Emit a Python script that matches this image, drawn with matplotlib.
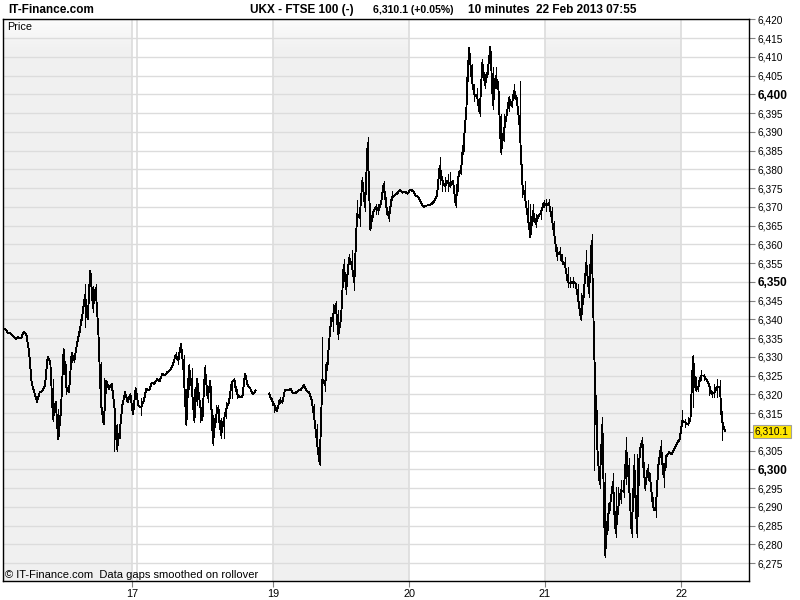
import numpy as np
import matplotlib
matplotlib.use('Agg')
import matplotlib.pyplot as plt
from matplotlib.transforms import blended_transform_factory

plt.rcParams['font.family'] = ['Liberation Sans', 'DejaVu Sans']

# 10 minute closes, FTSE 100, one list per trading session (None = data gap)
fri15 = [6337.5, 6336.5, 6336.2, 6335.5, 6334.8, 6335.2, 6334.9, 6336.6, 6335.9, 6331.5,
         6323, 6320.5, 6318, 6320.5, 6320.8, 6322.5, 6330, 6328.5, 6313.5, 6318,
         6308, 6316, 6332, 6322, 6320.5, 6331, 6329, 6333.5, 6337, 6341,
         6346.5, 6340, 6353, 6343, 6348.5, 6336.7, 6317.5, 6312, 6323.5, 6321.5,
         6322.8, 6317, 6305.5, 6310, 6317, 6320.5, 6318, 6320, 6314.6, 6321.6]
mon18 = [6317, 6316.5, 6318.2, 6321.5, 6321, 6323, 6322.8, 6324, 6323.5, 6325.5,
         6325, 6326, 6326.5, 6328, 6330.5, 6329, 6333.5, 6326, 6312, 6327.5,
         6322, 6313, 6324, 6318, 6313, 6327, 6319, 6323.5, 6307, 6314,
         6316.5, 6309, 6313, 6316, 6318, 6323, 6324, 6320, 6319.2, 6319.3,
         6325.5, 6322.5, 6321.5, 6320, 6321, None, None, None, None, 6320.2,
         6318.5]
tue19 = [6317, 6315.5, 6318.5, 6317.8, 6321.3, 6321, 6321.5, 6320.3, 6320.4, 6321,
         6321.2, 6322.5, 6321, 6320.5, 6318.5, 6313.5, 6307, 6301.5, 6324, 6322.5,
         6329, 6338, 6341, 6344, 6336, 6340, 6354.5, 6348, 6356.5, 6354.5,
         6350, 6368, 6367, 6377, 6370, 6387, 6364, 6368.5, 6370, 6369,
         6371, 6376, 6370, 6367, 6372.5, 6373, 6373.5, 6374.5, 6373.8, 6374,
         6373.5]
wed20 = [6374.6, 6374.2, 6373, 6372.6, 6371, 6370, 6370.3, 6370.5, 6370.8, 6371.5,
         6373.2, 6381, 6377, 6375.5, 6377, 6375.5, 6377, 6370.5, 6378, 6380,
         6387, 6396, 6412.5, 6404, 6400, 6399.5, 6395, 6408.5, 6402.5, 6406,
         6412.7, 6397, 6405, 6402, 6384.5, 6390, 6394, 6399, 6397, 6401,
         6398, 6391.5, 6376, 6372.5, 6367.5, 6362, 6369, 6365.5, 6367.5, 6368.5,
         6371]
thu21 = [6370.5, 6371, 6367, 6362.5, 6357, 6358, 6355.5, 6354.5, 6350, 6349.5,
         6350, 6349.5, 6345, 6340, 6347, 6355, 6347, 6361, 6330, 6307,
         6296, 6312, 6277, 6287, 6291, 6296.5, 6283, 6290, 6294.5, 6294,
         6305, 6296, 6283, 6301, 6283, 6305, 6307.5, 6295, 6300, 6297,
         6290, 6289, 6301, 6306, 6298, 6303.5, 6304.5, 6304, 6305.5, 6307,
         6308]
fri22 = [6313, 6312.5, 6312, 6313, 6330, 6321, 6322, 6325, 6325, 6324,
         6322.5, 6320, 6320.5, 6322, 6322, 6312.5, 6310.1]

# intra-bar swings (bar number, low, high) where the trace is busy
bar_ranges = [
    (18, 6313, 6324), (19, 6311, 6318), (20, 6308, 6316), (21, 6314.6, 6320.8),
    (23, 6320, 6328), (25, 6328.7, 6331.4), (26, 6328.7, 6331), (28, 6336.7, 6340),
    (30, 6338, 6349.5), (31, 6340, 6349.5), (33, 6342, 6349), (34, 6344, 6349.5),
    (36, 6316.8, 6328.7), (37, 6312, 6324.3), (41, 6305, 6317), (42, 6305, 6312),
    (43, 6308.4, 6311.9), (44, 6315.4, 6318.1), (51, 6314.5, 6318.9),
    (64, 6329.5, 6331.3), (65, 6328.2, 6331.3), (67, 6325.5, 6330.4), (68, 6311.8, 6321.5),
    (69, 6321.5, 6328.2), (70, 6321.5, 6327), (71, 6312.7, 6321.5), (72, 6317.1, 6324.2),
    (73, 6312.7, 6318), (75, 6323.3, 6327.7), (76, 6318, 6321.5), (77, 6316.2, 6323.8),
    (78, 6306.5, 6314.5), (79, 6312.7, 6317.1), (80, 6312.7, 6317.1), (81, 6308.3, 6313.6),
    (82, 6308.3, 6313.6), (83, 6313.6, 6318), (85, 6318.9, 6323.3), (86, 6322, 6324.2),
    (87, 6319, 6321.5), (100, 6317.1, 6318.9), (101, 6315.4, 6316.7),
    (103, 6317.6, 6319.3), (104, 6317.6, 6319.3),
    (116, 6313.5, 6317.5), (117, 6306.9, 6312.2), (118, 6301.1, 6306), (119, 6321, 6335.3),
    (120, 6321, 6328.2), (121, 6328.2, 6330), (122, 6336.2, 6340.6), (123, 6337, 6344.1),
    (124, 6338.8, 6345), (125, 6334.8, 6342.4), (127, 6350.4, 6356), (128, 6346.8, 6352.1),
    (129, 6354.8, 6357.5), (130, 6353, 6358.4), (131, 6347.7, 6354.8), (132, 6365.4, 6371.7),
    (133, 6365, 6370.8), (134, 6374.3, 6378), (135, 6369, 6373.4), (136, 6378, 6388.5),
    (137, 6363.7, 6369.9), (138, 6367.2, 6369.4), (139, 6368.1, 6370.8), (140, 6368.1, 6370.8),
    (142, 6372.6, 6377), (143, 6368.1, 6372.6), (144, 6366.3, 6369.9), (145, 6371.7, 6374.3),
    (163, 6376.1, 6383.2), (164, 6374.3, 6377), (165, 6374.3, 6378), (166, 6374.3, 6378.8),
    (167, 6375.2, 6379.2), (169, 6369.9, 6376.1), (170, 6374.3, 6379.6), (171, 6378.8, 6384.5),
    (172, 6385, 6390.3), (173, 6394.7, 6404.5), (175, 6402.7, 6408), (176, 6398.3, 6402.7),
    (177, 6398.3, 6401.8), (178, 6394.3, 6397.9), (179, 6404.5, 6409.4), (180, 6401.8, 6405.4),
    (181, 6405.4, 6409), (182, 6407.2, 6412.7), (183, 6396.1, 6407.2), (184, 6401.8, 6407.2),
    (185, 6394.7, 6403.6), (186, 6384.1, 6394.7), (187, 6387.6, 6394.7), (188, 6393, 6395.6),
    (189, 6395.6, 6399.6), (190, 6396.5, 6400), (191, 6399, 6402.7), (192, 6395.6, 6399.2),
    (193, 6390.3, 6403.6), (194, 6372.6, 6381.4), (195, 6370.8, 6377), (196, 6366.3, 6371.7),
    (197, 6362, 6370.8), (198, 6366.3, 6370.8), (199, 6364.6, 6368), (201, 6366.8, 6369.9),
    (202, 6369.9, 6371.7), (203, 6369, 6372.1), (204, 6369, 6372.1), (205, 6366.3, 6369.9),
    (206, 6361.9, 6366.3), (207, 6355.7, 6359.2), (208, 6355.7, 6359.2), (209, 6354.8, 6357.5),
    (210, 6353.5, 6356.6), (211, 6348.6, 6353.9), (212, 6348.6, 6351.2), (213, 6348.6, 6351.2),
    (215, 6344.1, 6349.5), (216, 6339.7, 6347), (217, 6345.9, 6349.5), (218, 6354.8, 6358.4),
    (219, 6345.9, 6351.2), (220, 6353, 6362.8), (221, 6299.7, 6331), (222, 6301.5, 6315.7),
    (223, 6294.9, 6304), (224, 6304.2, 6314), (225, 6276.7, 6298.9), (226, 6283.8, 6290.9),
    (227, 6289.1, 6293.5), (228, 6288.2, 6298.9), (229, 6282, 6295.3), (230, 6289.1, 6295.3),
    (231, 6290.9, 6297.1), (232, 6292.6, 6296.2), (233, 6296.2, 6308.6), (234, 6293.5, 6303),
    (235, 6282, 6293.5), (236, 6292.6, 6304.2), (237, 6282, 6304.2), (238, 6303.3, 6306.9),
    (239, 6300.6, 6308.6), (240, 6294.4, 6296.2), (241, 6297.1, 6301.5), (242, 6295.3, 6298.9),
    (243, 6289.1, 6292.6), (244, 6287.3, 6294.4), (245, 6298, 6303.3), (246, 6301.5, 6307.7),
    (247, 6295.3, 6301.5), (248, 6300.6, 6304.2), (254, 6312.2, 6315.7), (255, 6311.3, 6313.5),
    (256, 6311.7, 6314), (258, 6316.6, 6330.4), (259, 6321, 6324.6), (260, 6321, 6323.7),
    (261, 6323.7, 6326.4), (262, 6323.7, 6325.5), (264, 6319.7, 6322.8), (265, 6319.3, 6321),
    (266, 6319.3, 6322.8), (267, 6319.3, 6324.2), (268, 6314.8, 6323.7), (269, 6307.7, 6314),
]

last_price = 6310.1

# bar positions of the day separators
tick_pos = [47.8, 100.5, 151.5, 202.5, 253.5]
tick_labels = ['17', '19', '20', '21', '22']
day_lines = [47.8, 49.5, 100.5, 151.5, 202.5, 253.5]
grey_days = [(-0.75, 47.8), (100.5, 151.5), (202.5, 253.5)]
yticks = np.arange(6275, 6421, 5)

close = fri15 + mon18 + tue19 + wed20 + thu21 + fri22
price = np.array([np.nan if v is None else v for v in close], dtype=float)
bars = np.arange(len(price))
rb = np.array([r[0] for r in bar_ranges])
rlo = np.array([r[1] for r in bar_ranges])
rhi = np.array([r[2] for r in bar_ranges])

fig = plt.figure(figsize=(8, 6), dpi=100)
ax = fig.add_axes([3 / 800, 19 / 600, 746.3 / 800, 562 / 600])
ax.set_facecolor('white')

for a, b in grey_days:
    ax.axvspan(a, b, color='#f0f0f0', lw=0, zorder=0)

# light fade at the top of the plot area
grad = np.ones((100, 2, 4))
grad[:, :, 3] = np.linspace(0.8, 0, 100)[:, None]
ax.imshow(grad, extent=[0, 1, 0.94, 1], transform=ax.transAxes,
          aspect='auto', zorder=0.5, interpolation='bilinear')

for v in yticks:
    ax.axhline(v, color='#dcdcdc', lw=1, zorder=1)
for d in day_lines:
    ax.axvline(d, color='#dcdcdc', lw=1.2, zorder=1)

ax.plot(bars, price, color='black', lw=0.65, zorder=3, antialiased=False)
ax.vlines(rb, rlo, rhi, color='black', lw=0.65, zorder=3, antialiased=False)

ax.set_xlim(-0.75, 279.1)
ax.set_ylim(6270.2, 6420.1)

ax.yaxis.tick_right()
ax.set_yticks(yticks)
ylabels = ['' if v == 6310 else f'{v:,}' for v in yticks]
ax.set_yticklabels(ylabels)
ax.tick_params(axis='y', direction='out', length=4, color='#808080',
               labelsize=7.3, pad=2)
for lab, v in zip(ax.get_yticklabels(), yticks):
    if v % 50 == 0:
        lab.set_fontweight('bold')
        lab.set_fontsize(8.6)

ax.set_xticks(tick_pos)
ax.set_xticklabels(tick_labels)
ax.tick_params(axis='x', direction='out', length=4, color='#808080',
               labelsize=7.8, pad=1.5)

for s in ax.spines.values():
    s.set_color('black')
    s.set_linewidth(1)

trans = blended_transform_factory(ax.transAxes, ax.transData)
ax.text(1.0075, last_price, f'{last_price:,.1f}', transform=trans, va='center',
        ha='left', fontsize=7.3, zorder=5,
        bbox=dict(boxstyle='square,pad=0.18', fc='#ffe600', ec='#a0a0a0', lw=0.8))

ax.text(0.005, 0.986, 'Price', transform=ax.transAxes, fontsize=7.8,
        va='center', ha='left', zorder=5)
ax.text(0.003, 0.011, '\u00a9 IT-Finance.com  Data gaps smoothed on rollover',
        transform=ax.transAxes, fontsize=8, va='center', ha='left', zorder=5)

fig.text(8 / 800, 1 - 10 / 600, 'IT-Finance.com', fontsize=8.5,
         fontweight='bold', va='center', ha='left')
fig.text(250 / 800, 1 - 10 / 600, 'UKX - FTSE 100 (-)', fontsize=8.5,
         fontweight='bold', va='center', ha='left')
fig.text(373 / 800, 1 - 10 / 600, '6,310.1 (+0.05%)', fontsize=7.6,
         fontweight='bold', va='center', ha='left')
fig.text(468 / 800, 1 - 10 / 600, '10 minutes  22 Feb 2013 07:55', fontsize=8.5,
         fontweight='bold', va='center', ha='left')

fig.savefig('out.png', dpi=100)
